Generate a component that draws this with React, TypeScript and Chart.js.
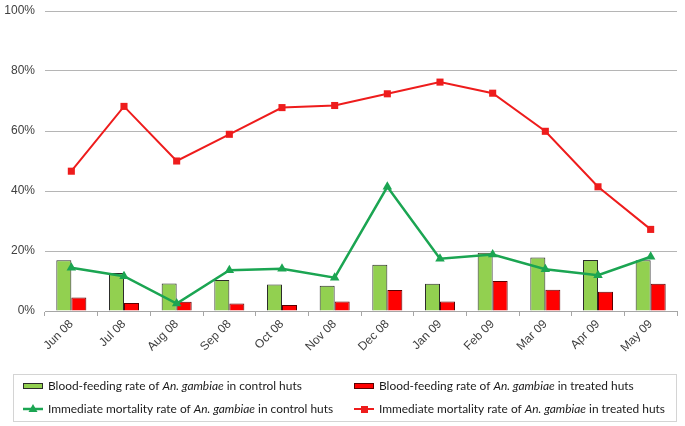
import React, { useEffect, useRef } from "react";
import { Chart, registerables } from "chart.js";

Chart.register(...registerables);

const months = ["Jun 08", "Jul 08", "Aug 08", "Sep 08", "Oct 08", "Nov 08", "Dec 08", "Jan 09", "Feb 09", "Mar 09", "Apr 09", "May 09"];
const bfControl = [16.9, 12.7, 9.2, 10.3, 8.8, 8.4, 15.4, 9.1, 19.4, 17.8, 17.0, 16.9];
const bfTreated = [4.5, 2.7, 3.1, 2.5, 2.0, 3.2, 7.0, 3.2, 10.0, 7.1, 6.4, 9.1];
const mortControl = [14.4, 11.6, 2.5, 13.6, 14.1, 11.1, 41.4, 17.4, 18.8, 13.9, 11.9, 18.1];
const mortTreated = [46.6, 68.2, 50.0, 58.9, 67.8, 68.5, 72.4, 76.3, 72.6, 59.9, 41.4, 27.2];
const yTicks = [0, 20, 40, 60, 80, 100];

const GREEN_FILL = "#92D050";
const RED_FILL = "#FF0000";
const GREEN_LINE = "#1BA552";
const RED_LINE = "#EE1C1C";

type Part = { t: string; i?: boolean };
const legendItems: { kind: string; parts: Part[] }[] = [
  { kind: "barG", parts: [{ t: "Blood-feeding rate of " }, { t: "An. gambiae", i: true }, { t: " in control huts" }] },
  { kind: "barR", parts: [{ t: "Blood-feeding rate of " }, { t: "An. gambiae", i: true }, { t: " in treated huts" }] },
  { kind: "lineG", parts: [{ t: "Immediate mortality rate of " }, { t: "An. gambiae", i: true }, { t: " in control huts" }] },
  { kind: "lineR", parts: [{ t: "Immediate mortality rate of " }, { t: "An. gambiae", i: true }, { t: " in treated huts" }] },
];

const FONT_FAMILY = "Lato, 'Open Sans', sans-serif";

const legendPlugin = {
  id: "customLegend",
  afterDraw(chart: any) {
    const ctx = chart.ctx as CanvasRenderingContext2D;
    ctx.save();
    ctx.strokeStyle = "#d4d4d4";
    ctx.lineWidth = 1;
    ctx.strokeRect(13.5, 374.5, 663, 47);
    const measure = (parts: Part[], size: number) => {
      let w = 0;
      for (const p of parts) {
        ctx.font = `${p.i ? "italic " : ""}${size}px ${FONT_FAMILY}`;
        w += ctx.measureText(p.t).width;
      }
      return w;
    };
    const base = measure(legendItems[0].parts, 12);
    const size = (12 * 254) / base;
    const cols = [23, 354];
    const rows = [386, 409];
    legendItems.forEach((item, idx) => {
      const cx = cols[idx % 2];
      const cy = rows[Math.floor(idx / 2)];
      if (item.kind === "barG" || item.kind === "barR") {
        ctx.fillStyle = item.kind === "barG" ? GREEN_FILL : RED_FILL;
        ctx.fillRect(cx, cy - 3, 20, 6);
        ctx.strokeStyle = item.kind === "barG" ? "#2b2b2b" : "#5a0000";
        ctx.lineWidth = 1;
        ctx.strokeRect(cx + 0.5, cy - 2.5, 19, 5);
      } else {
        const col = item.kind === "lineG" ? GREEN_LINE : RED_LINE;
        ctx.strokeStyle = col;
        ctx.lineWidth = item.kind === "lineG" ? 2.5 : 2;
        ctx.beginPath();
        ctx.moveTo(cx, cy);
        ctx.lineTo(cx + 20, cy);
        ctx.stroke();
        ctx.fillStyle = col;
        if (item.kind === "lineG") {
          ctx.beginPath();
          ctx.moveTo(cx + 10, cy - 5);
          ctx.lineTo(cx + 14.5, cy + 3);
          ctx.lineTo(cx + 5.5, cy + 3);
          ctx.closePath();
          ctx.fill();
        } else {
          ctx.fillRect(cx + 7, cy - 3, 7, 7);
        }
      }
      let x = cx + 25;
      ctx.fillStyle = "#1a1a1a";
      ctx.textBaseline = "middle";
      ctx.textAlign = "left";
      for (const p of item.parts) {
        ctx.font = `${p.i ? "italic " : ""}${size}px ${FONT_FAMILY}`;
        ctx.fillText(p.t, x, cy);
        x += ctx.measureText(p.t).width;
      }
    });
    ctx.restore();
  },
};

export default function App() {
  const ref = useRef<HTMLCanvasElement | null>(null);
  useEffect(() => {
    document.body.style.margin = "0";
    if (!ref.current) return;
    const chart = new Chart(ref.current, {
      type: "bar",
      data: {
        labels: months,
        datasets: [
          {
            type: "line",
            label: "Immediate mortality rate of An. gambiae in control huts",
            data: mortControl,
            borderColor: GREEN_LINE,
            backgroundColor: GREEN_LINE,
            borderWidth: 2.5,
            pointStyle: "triangle",
            pointRadius: 5.5,
            pointBorderWidth: 0,
            tension: 0,
            order: 1,
          },
          {
            type: "line",
            label: "Immediate mortality rate of An. gambiae in treated huts",
            data: mortTreated,
            borderColor: RED_LINE,
            backgroundColor: RED_LINE,
            borderWidth: 2,
            pointStyle: "rect",
            pointRadius: 5,
            pointBorderWidth: 0,
            tension: 0,
            order: 1,
          },
          {
            type: "bar",
            label: "Blood-feeding rate of An. gambiae in control huts",
            data: bfControl,
            backgroundColor: GREEN_FILL,
            borderColor: "#2b2b2b",
            borderWidth: 1,
            categoryPercentage: 0.57,
            barPercentage: 1,
            order: 2,
          },
          {
            type: "bar",
            label: "Blood-feeding rate of An. gambiae in treated huts",
            data: bfTreated,
            backgroundColor: RED_FILL,
            borderColor: "#5a0000",
            borderWidth: 1,
            categoryPercentage: 0.57,
            barPercentage: 1,
            order: 2,
          },
        ],
      },
      options: {
        animation: false,
        responsive: false,
        maintainAspectRatio: false,
        layout: { padding: { top: 11, right: 8, bottom: 60, left: 0 } },
        plugins: {
          legend: { display: false },
          tooltip: { enabled: false },
          title: { display: false },
        },
        scales: {
          x: {
            offset: true,
            grid: {
              display: true,
              drawOnChartArea: false,
              drawTicks: true,
              tickLength: 5,
              color: "#a6a6a6",
              offset: true,
            },
            border: { display: true, color: "#a6a6a6", width: 1 },
            ticks: {
              maxRotation: 45,
              minRotation: 45,
              color: "#404040",
              padding: 1,
              font: { family: "'Liberation Sans', Arial, sans-serif", size: 12 },
            },
            afterFit: (s: any) => {
              s.height = 55;
            },
          },
          y: {
            min: 0,
            max: 100,
            afterBuildTicks: (s: any) => {
              s.ticks = yTicks.map((v) => ({ value: v }));
            },
            grid: { color: "#b5b5b5", drawTicks: true, tickLength: 7, tickColor: "rgba(0,0,0,0)", lineWidth: 1 },
            border: { display: false },
            ticks: {
              color: "#404040",
              padding: 3,
              font: { family: "'Liberation Sans', Arial, sans-serif", size: 12 },
              callback: (v: any) => `${v}%`,
            },
            afterFit: (s: any) => {
              s.width = 45;
            },
          },
        },
      },
      plugins: [legendPlugin],
    });
    return () => chart.destroy();
  }, []);
  return (
    <div style={{ width: 685, height: 426, background: "#fff" }}>
      <canvas ref={ref} width={685} height={426} style={{ display: "block" }} />
    </div>
  );
}
